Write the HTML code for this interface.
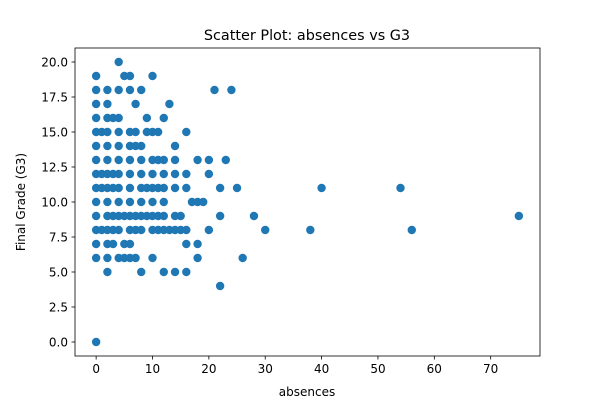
<!DOCTYPE html>
<html><head><meta charset="utf-8"><style>
body{margin:0;background:#fff;font-family:"Liberation Sans","DejaVu Sans",sans-serif}
svg text{font-family:"DejaVu Sans","Liberation Sans",sans-serif;fill:#000}
</style></head><body>
<svg id="chart" width="600" height="400">
<text x="307" y="40" font-size="14.4" text-anchor="middle">Scatter Plot: absences vs G3</text>
<g id="points"></g>
<rect x="75" y="48" width="465" height="308" fill="none" stroke="#000" stroke-width="0.8"/>
<g id="axes"></g>
<text x="307" y="396" font-size="12" text-anchor="middle">absences</text>
<text x="0" y="0" font-size="12" text-anchor="middle" transform="translate(25,202) rotate(-90)">Final Grade (G3)</text>
</svg>
<script>
const absences = [4,0,5,6,10,0,2,4,6,8,21,24,0,2,7,13,0,2,3,4,9,12,0,1,2,4,6,7,9,10,11,16,0,2,4,6,7,8,14,0,2,4,6,8,10,11,12,14,18,20,23,0,1,2,3,4,6,8,10,12,14,16,20,0,1,2,3,4,6,8,9,10,11,12,14,16,22,25,0,2,4,6,8,10,12,17,18,19,0,2,3,4,5,6,7,8,9,10,11,12,14,15,22,28,0,1,2,3,4,6,7,8,10,11,12,13,14,15,16,20,30,38,56,0,2,3,5,6,16,18,0,2,4,5,6,7,10,18,26,2,8,12,14,16,22,0,40,54,75];
const grades =   [20,19,19,19,19,18,18,18,18,18,18,18,17,17,17,17,16,16,16,16,16,16,15,15,15,15,15,15,15,15,15,15,14,14,14,14,14,14,14,13,13,13,13,13,13,13,13,13,13,13,13,12,12,12,12,12,12,12,12,12,12,12,12,11,11,11,11,11,11,11,11,11,11,11,11,11,11,11,10,10,10,10,10,10,10,10,10,10,9,9,9,9,9,9,9,9,9,9,9,9,9,9,9,9,8,8,8,8,8,8,8,8,8,8,8,8,8,8,8,8,8,8,8,7,7,7,7,7,7,7,6,6,6,6,6,6,6,6,6,5,5,5,5,5,4,0,11,11,9];
const xTicks = [0,10,20,30,40,50,60,70];
const yTicks = [0,2.5,5,7.5,10,12.5,15,17.5,20];
const yTickLabels = ["0.0","2.5","5.0","7.5","10.0","12.5","15.0","17.5","20.0"];
const X0=75,X1=540,Y0=356,Y1=48, xmin=-3.75,xmax=78.75,ymin=-1,ymax=21;
const sx=v=>X0+(v-xmin)/(xmax-xmin)*(X1-X0);
const sy=v=>Y0-(v-ymin)/(ymax-ymin)*(Y0-Y1);
const NS="http://www.w3.org/2000/svg";
const pg=document.getElementById('points');
absences.forEach((a,i)=>{
  const c=document.createElementNS(NS,'circle');
  c.setAttribute('cx',sx(a));c.setAttribute('cy',sy(grades[i]));c.setAttribute('r',4.2);c.setAttribute('fill','#1f77b4');
  
  
  pg.appendChild(c);
});
const ax=document.getElementById('axes');
xTicks.forEach(t=>{
  const l=document.createElementNS(NS,'line');
  l.setAttribute('x1',sx(t));l.setAttribute('x2',sx(t));l.setAttribute('y1',Y0);l.setAttribute('y2',Y0+3.5);l.setAttribute('stroke','#000');l.setAttribute('stroke-width','0.8');
  
  
  ax.appendChild(l);
  const tx=document.createElementNS(NS,'text');
  tx.setAttribute('x',sx(t));tx.setAttribute('y',Y0+17);tx.setAttribute('font-size','12');tx.setAttribute('text-anchor','middle');tx.textContent=t;
  
  
  ax.appendChild(tx);
});
yTicks.forEach((t,i)=>{
  const l=document.createElementNS(NS,'line');
  l.setAttribute('x1',X0-3.5);l.setAttribute('x2',X0);l.setAttribute('y1',sy(t));l.setAttribute('y2',sy(t));l.setAttribute('stroke','#000');l.setAttribute('stroke-width','0.8');
  
  
  ax.appendChild(l);
  const tx=document.createElementNS(NS,'text');
  tx.setAttribute('x',X0-7);tx.setAttribute('y',sy(t)+4.3);tx.setAttribute('font-size','12');tx.setAttribute('text-anchor','end');tx.textContent=yTickLabels[i];
  
  
  ax.appendChild(tx);
});
</script>
</body></html>
